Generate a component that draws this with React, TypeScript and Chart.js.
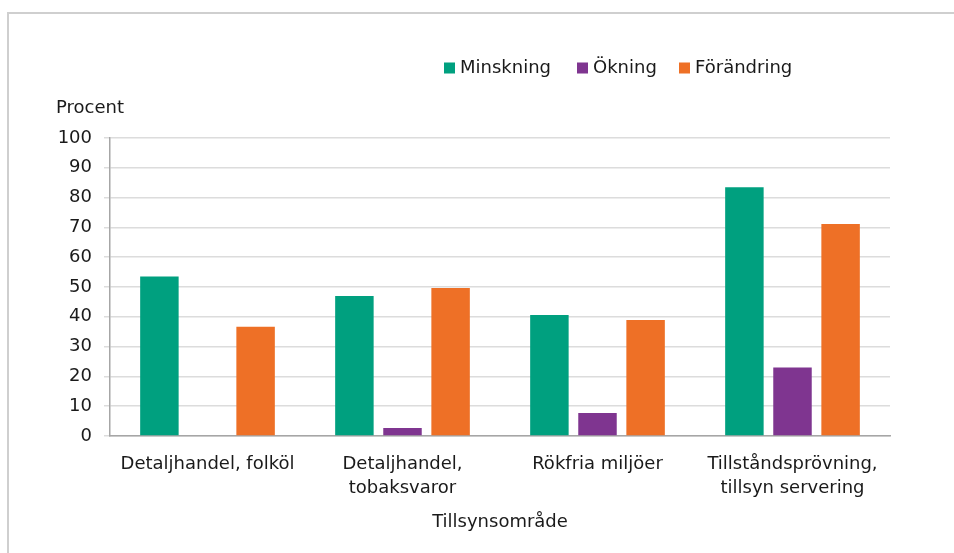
import React, { useEffect, useRef } from 'react';
import { Chart, registerables } from 'chart.js';

Chart.register(...registerables);

const categories: string[][] = [
  ['Detaljhandel, folköl'],
  ['Detaljhandel,', 'tobaksvaror'],
  ['Rökfria miljöer'],
  ['Tillståndsprövning,', 'tillsyn servering'],
];
const seriesNames = ['Minskning', 'Ökning', 'Förändring'];
const minskning = [53.5, 47.0, 40.6, 83.5];
const okning = [0, 2.7, 7.7, 23.0];
const forandring = [36.7, 49.7, 38.9, 71.1];
const seriesColors = ['#00A07F', '#7F3590', '#EE7026'];
const yTitle = 'Procent';
const xTitle = 'Tillsynsområde';
const yMin = 0;
const yMax = 100;
const yStep = 10;

const FONT = "'DejaVu Sans', Verdana, sans-serif";
const TEXT = '#1a1a1a';

const overlayPlugin = {
  id: 'overlay',
  afterDraw(chart: any) {
    const ctx = chart.ctx;
    ctx.save();
    ctx.font = `18px ${FONT}`;
    ctx.fillStyle = TEXT;
    ctx.textBaseline = 'middle';
    ctx.textAlign = 'left';
    // y axis title
    ctx.fillText(yTitle, 56, 108);
    // legend
    const xs = [444, 577, 679];
    const y = 68;
    const box = 11;
    seriesNames.forEach((name, i) => {
      ctx.fillStyle = seriesColors[i];
      ctx.fillRect(xs[i], y - box / 2, box, box);
      ctx.fillStyle = TEXT;
      ctx.fillText(name, xs[i] + box + 5, y);
    });
    ctx.restore();
  },
};

export default function App() {
  const ref = useRef<HTMLCanvasElement | null>(null);
  useEffect(() => {
    if (!ref.current) return;
    const chart = new Chart(ref.current, {
      type: 'bar',
      data: {
        labels: categories,
        datasets: [
          { label: seriesNames[0], data: minskning, backgroundColor: seriesColors[0] },
          { label: seriesNames[1], data: okning, backgroundColor: seriesColors[1] },
          { label: seriesNames[2], data: forandring, backgroundColor: seriesColors[2] },
        ],
      },
      options: {
        responsive: false,
        animation: false,
        devicePixelRatio: 1,
        layout: { padding: { top: 138, right: 64, bottom: 0, left: 0 } },
        datasets: {
          bar: { barPercentage: 0.8, categoryPercentage: 0.74 },
        },
        plugins: {
          legend: { display: false },
          tooltip: { enabled: false },
        },
        scales: {
          x: {
            grid: { display: true, drawOnChartArea: false, drawTicks: false, color: 'rgba(0,0,0,0)' },
            border: { display: true, color: '#a6a6a6', width: 1.5 },
            ticks: {
              color: TEXT,
              font: { family: FONT, size: 18, lineHeight: 1.3 },
              padding: 17,
              maxRotation: 0,
              autoSkip: false,
            },
            title: {
              display: true,
              text: xTitle,
              color: TEXT,
              font: { family: FONT, size: 18, lineHeight: 1.2 },
              padding: { top: 0, bottom: 20 },
            },
            afterFit: (s: any) => {
              s.height = 553 - 436;
            },
          },
          y: {
            min: yMin,
            max: yMax,
            grid: { color: '#dcdcdc', lineWidth: 1.5, tickLength: 6, drawTicks: true },
            border: { display: true, color: '#a6a6a6', width: 1.5 },
            ticks: {
              stepSize: yStep,
              color: TEXT,
              font: { family: FONT, size: 18 },
              padding: 12,
            },
            afterFit: (s: any) => {
              s.width = 110;
            },
          },
        },
      },
      plugins: [overlayPlugin],
    });
    return () => chart.destroy();
  }, []);

  return (
    <div style={{ position: 'fixed', left: 0, top: 0, width: 954, height: 553, background: '#fff', overflow: 'hidden' }}>
      <div style={{ position: 'absolute', left: 7, top: 12, width: 947, height: 2, background: '#cfcfcf' }} />
      <div style={{ position: 'absolute', left: 7, top: 12, width: 2, height: 541, background: '#cfcfcf' }} />
      <canvas ref={ref} width={954} height={553} style={{ position: 'absolute', left: 0, top: 0, width: 954, height: 553 }} />
    </div>
  );
}
